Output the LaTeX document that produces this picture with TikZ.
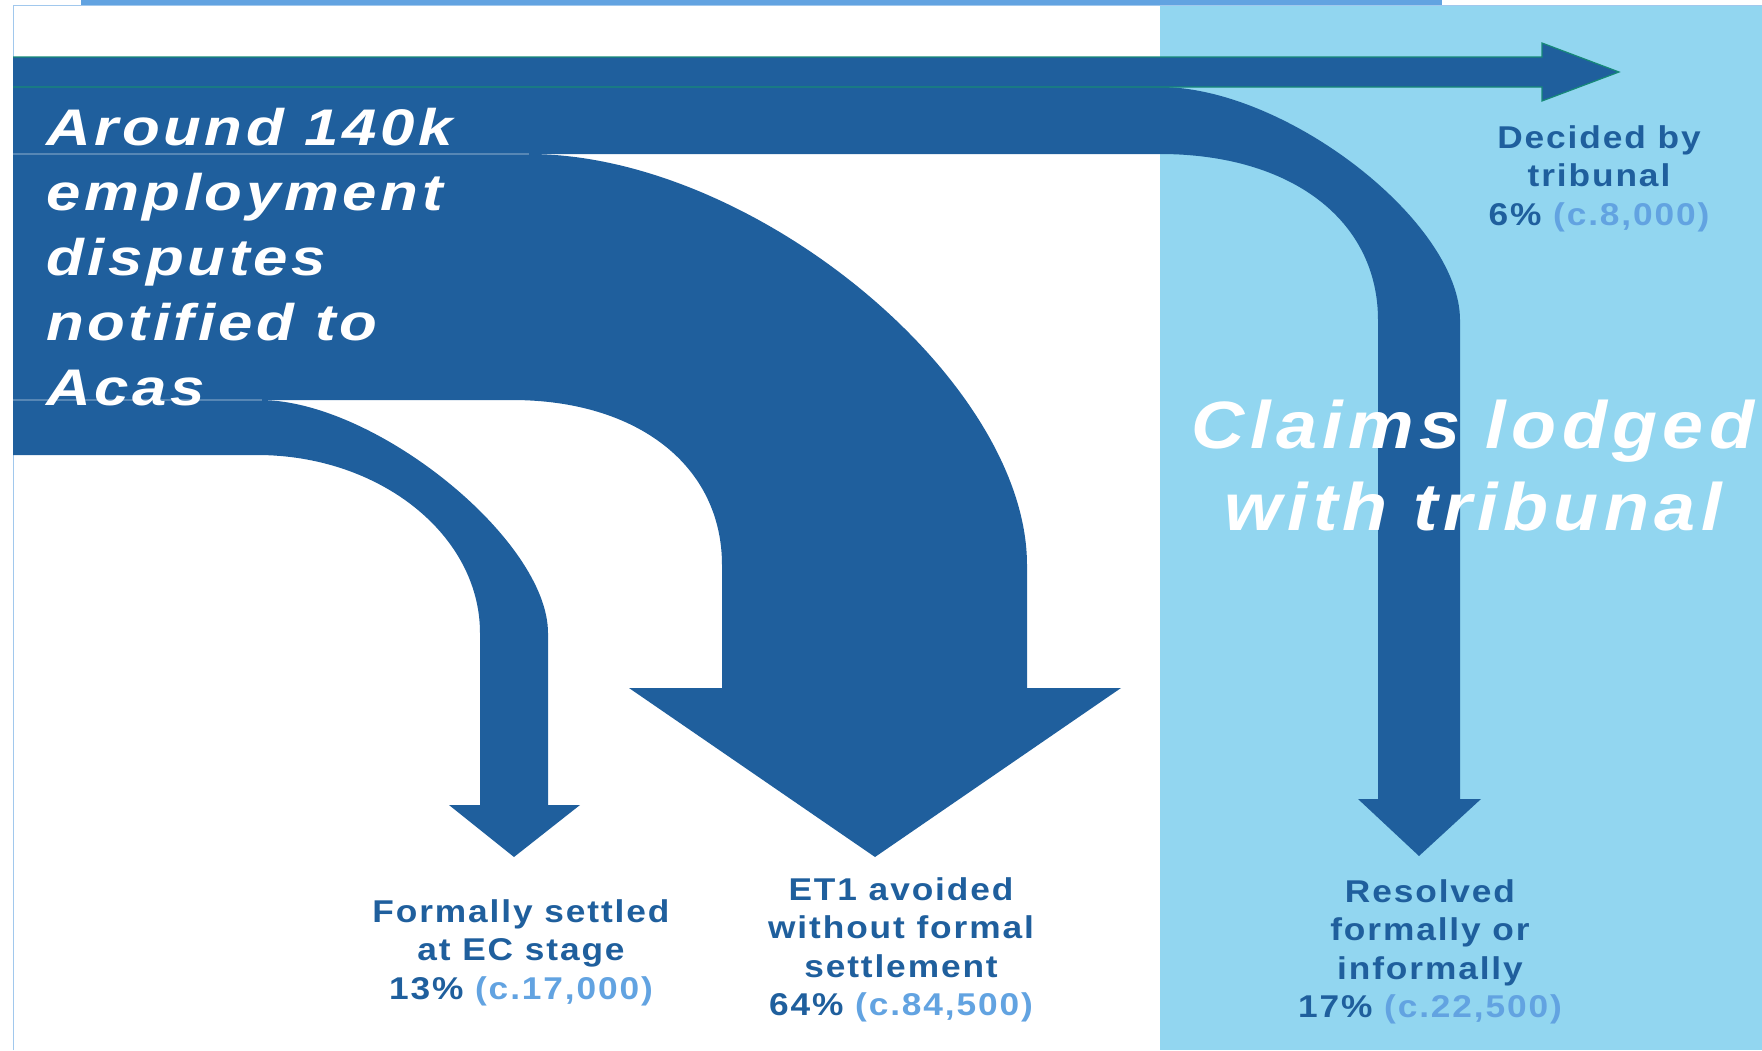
\documentclass[tikz,border=0pt]{standalone}
\usepackage{fontspec}
\setmainfont{Liberation Sans}
\newfontfamily\flowfont[FakeStretch=1.2, LetterSpace=7]{Liberation Sans}
\newfontfamily\claimfont[FakeStretch=1.1, LetterSpace=8]{Liberation Sans}
\newfontfamily\labelfont[FakeStretch=1.12, LetterSpace=6]{Liberation Sans}
\definecolor{flowblue}{RGB}{31,95,157}
\definecolor{panelblue}{RGB}{146,214,240}
\definecolor{countblue}{RGB}{98,163,225}
\definecolor{rimteal}{RGB}{22,138,120}
\tikzset{
flow/.style={fill=flowblue}, % the dark arrows
seam/.style={draw=white, opacity=0.25, line width=1.5pt}, % faint line where two arrows meet
outcome/.style={font=\labelfont\bfseries\fontsize{31.5}{38.5}\selectfont, text=flowblue, align=center, anchor=north, inner sep=0pt}, % the four results
}
\newcommand{\casecount}[1]{\textcolor{countblue}{#1}}

\begin{document}
\begin{tikzpicture}[x=1pt, y=-1pt]
    \useasboundingbox (0,0) rectangle (1762,1050);
    % tribunal panel and frame
    \fill[panelblue] (1160,5) rectangle (1762,1050);
    \fill[countblue] (81,0) rectangle (1442,4.5);
    \draw[countblue!60, line width=1pt] (13,1050) -- (13,5) -- (1762,5);
    % formally settled
    \fill[flow] (13,400) -- (260,400) .. controls (375,400) and (548,540) .. (548,633)
      -- (548,805) -- (580,805) -- (514,857) -- (449,805) -- (480,805) -- (480,633)
      .. controls (480,535) and (380,455) .. (257,455) -- (13,455) -- cycle;
    % ET1 avoided
    \fill[flow] (13,154) -- (529,154) .. controls (753,154) and (1027,380) .. (1027,565)
      -- (1027,688) -- (1121,688) -- (875,857) -- (629,688) -- (722,688) -- (722,565)
      .. controls (722,466) and (638,400) .. (512,400) -- (13,400) -- cycle;
    % resolved after claim
    \fill[flow] (13,87) -- (1160,87) .. controls (1286,87) and (1460,222) .. (1460,320)
      -- (1460,799) -- (1481,799) -- (1419,856) -- (1358,799) -- (1378,799) -- (1378,320)
      .. controls (1378,220) and (1291,154) .. (1160,154) -- (13,154) -- cycle;
    % decided by tribunal
    \filldraw[flow, draw=rimteal, line width=1.2pt] (13,57) -- (1542,57) -- (1542,43) -- (1619,72)
      -- (1542,101) -- (1542,87) -- (13,87);
    \draw[seam] (13,154) -- (529,154);
    \draw[seam] (13,400) -- (262,400);

    \node[font=\flowfont\bfseries\itshape\fontsize{51.5}{65}\selectfont, text=white, align=left,
      anchor=north west, inner sep=0pt] (disputes) at (46,108)
      {Around 140k\\employment\\disputes\\notified to\\Acas};
    \node[font=\claimfont\bfseries\itshape\fontsize{67}{82}\selectfont, text=white, align=center,
      anchor=north, inner sep=0pt] (claims) at (1473,400) {Claims lodged\\with tribunal};

    \node[outcome] (decided) at (1599,125) {Decided by\\tribunal\\6\% \casecount{(c.8,000)}};
    \node[outcome] (settled) at (521,899) {Formally settled\\at EC stage\\13\% \casecount{(c.17,000)}};
    \node[outcome] (avoided) at (901,877) {ET1 avoided\\without formal\\settlement\\64\% \casecount{(c.84,500)}};
    \node[outcome] (resolved) at (1430,879) {Resolved\\formally or\\informally\\17\% \casecount{(c.22,500)}};
  \end{tikzpicture}
\end{document}
